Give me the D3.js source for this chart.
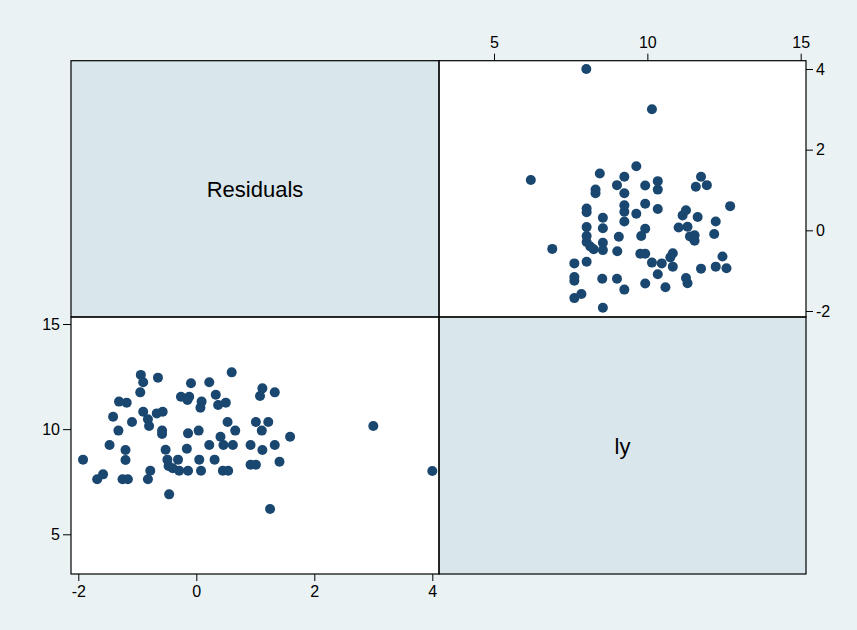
<!DOCTYPE html>
<html>
<head>
<meta charset="utf-8">
<script src="https://cdn.jsdelivr.net/npm/d3@7"></script>
<style>
  html, body { margin: 0; padding: 0; background: #EAF2F3; }
  svg { display: block; }
  text { font-family: "Liberation Sans", Arial, Helvetica, sans-serif; fill: #000; }
</style>
</head>
<body>
<svg id="chart" width="857" height="630"></svg>
<script>
// Variable names (diagonal labels)
const varNames = ["Residuals", "ly"];

// Residuals values
const residuals = [
  -0.94, -0.90, -0.65, -0.95, 0.60, -0.09, 0.22, -0.26, -0.12, -0.15,
  0.33, 0.09, 0.07, 0.37, 0.50, -1.31, -1.18, -0.90, -1.41, -0.82,
  -0.80, -1.09, -0.67, -0.57, -1.32, -0.58, -0.58, -0.14, 0.04, 0.53,
  0.66, 1.01, -1.47, -1.20, -0.52, -0.16, 0.22, 0.41, 0.46, 0.62,
  0.92, -1.92, -1.20, -0.49, -0.31, 0.05, 0.31, -0.47, -0.40, -0.29,
  -0.14, 0.08, 0.45, 0.54, 0.92, 1.01, -0.78, -1.58, -1.68, -1.25,
  -1.16, -0.82, -0.46, 1.12, 1.08, 1.33, 1.22, 1.11, 1.59, 1.12,
  1.33, 1.41, 1.25, 3.00, 4.00
];

// ly values (paired with residuals)
const ly = [
  12.58, 12.23, 12.45, 11.75, 12.70, 12.18, 12.23, 11.54, 11.54, 11.39,
  11.64, 11.31, 11.02, 11.15, 11.26, 11.31, 11.26, 10.83, 10.59, 10.47,
  10.15, 10.34, 10.75, 10.83, 9.93, 9.93, 9.77, 9.80, 9.93, 10.34,
  9.93, 10.34, 9.25, 9.01, 9.02, 9.07, 9.25, 9.64, 9.25, 9.25,
  9.25, 8.55, 8.53, 8.55, 8.55, 8.55, 8.55, 8.25, 8.14, 8.02,
  8.02, 8.02, 8.02, 8.02, 8.31, 8.31, 8.02, 7.85, 7.62, 7.62,
  7.62, 7.62, 6.90, 11.94, 11.58, 11.75, 10.34, 9.93, 9.64, 9.01,
  9.25, 8.45, 6.20, 10.15, 8.01
];

// Tick values
const residTicks = [-2, 0, 2, 4];
const lyTicks = [5, 10, 15];

const data = residuals.map((r, i) => ({ r: r, ly: ly[i] }));

const svg = d3.select("#chart");

// background
svg.append("rect").attr("x", 0).attr("y", 0).attr("width", 857).attr("height", 630)
  .attr("fill", "#EAF2F3");

// Cell geometry
const L = 71, M = 439, R = 806, T = 60.7, C = 317, B = 574;

// Scales
const bx = d3.scaleLinear().domain([-2, 4]).range([78.3, 432.3]);   // bottom-left x: residuals
const by = d3.scaleLinear().domain([5, 15]).range([534.3, 324]);    // bottom-left y: ly
const tx = d3.scaleLinear().domain([5, 15]).range([494, 800.7]);    // top-right x: ly
const ty = d3.scaleLinear().domain([-2, 4]).range([311, 69]);       // top-right y: residuals

const navy = "#1A476F";
const labelFill = "#D9E6EB";

// Cells
const cells = [
  { x: L, y: T, w: M - L, h: C - T, fill: labelFill },
  { x: M, y: T, w: R - M, h: C - T, fill: "#FFFFFF" },
  { x: L, y: C, w: M - L, h: B - C, fill: "#FFFFFF" },
  { x: M, y: C, w: R - M, h: B - C, fill: labelFill }
];
svg.selectAll("rect.cell").data(cells).enter().append("rect")
  .attr("class", "cell")
  .attr("x", d => d.x).attr("y", d => d.y)
  .attr("width", d => d.w).attr("height", d => d.h)
  .attr("fill", d => d.fill);

// Points: top-right (x = ly, y = residuals)
svg.append("g").selectAll("circle").data(data).enter().append("circle")
  .attr("cx", d => tx(d.ly)).attr("cy", d => ty(d.r)).attr("r", 5)
  .attr("fill", navy);

// Points: bottom-left (x = residuals, y = ly)
svg.append("g").selectAll("circle").data(data).enter().append("circle")
  .attr("cx", d => bx(d.r)).attr("cy", d => by(d.ly)).attr("r", 5)
  .attr("fill", navy);

// Cell borders
svg.selectAll("rect.border").data(cells).enter().append("rect")
  .attr("class", "border")
  .attr("x", d => d.x).attr("y", d => d.y)
  .attr("width", d => d.w).attr("height", d => d.h)
  .attr("fill", "none").attr("stroke", "#000").attr("stroke-width", 1.2);

// Diagonal labels
svg.append("text").attr("x", (L + M) / 2).attr("y", (T + C) / 2 + 1)
  .attr("text-anchor", "middle").attr("dominant-baseline", "central")
  .style("font-size", "22px").text(varNames[0]);
svg.append("text").attr("x", (M + R) / 2).attr("y", (C + B) / 2 + 1)
  .attr("text-anchor", "middle").attr("dominant-baseline", "central")
  .style("font-size", "22px").text(varNames[1]);

const fmt = d => String(d);

function styleAxis(g) {
  g.select(".domain").remove();
  g.selectAll(".tick line").attr("stroke", "#000").attr("stroke-width", 1);
  g.selectAll(".tick text").style("font-size", "16px")
    .style("font-family", '"Liberation Sans", Arial, Helvetica, sans-serif').attr("fill", "#000");
}

// Bottom axis (residuals)
svg.append("g").attr("transform", `translate(0,${B})`)
  .call(d3.axisBottom(bx).tickValues(residTicks).tickSize(7).tickPadding(5).tickFormat(fmt))
  .call(styleAxis);

// Left axis (ly)
svg.append("g").attr("transform", `translate(${L},0)`)
  .call(d3.axisLeft(by).tickValues(lyTicks).tickSize(8).tickPadding(3).tickFormat(fmt))
  .call(styleAxis);

// Top axis (ly)
svg.append("g").attr("transform", `translate(0,${T})`)
  .call(d3.axisTop(tx).tickValues(lyTicks).tickSize(7).tickPadding(6).tickFormat(fmt))
  .call(styleAxis);

// Right axis (residuals)
svg.append("g").attr("transform", `translate(${R},0)`)
  .call(d3.axisRight(ty).tickValues(residTicks).tickSize(7).tickPadding(3).tickFormat(fmt))
  .call(styleAxis);
</script>
</body>
</html>
